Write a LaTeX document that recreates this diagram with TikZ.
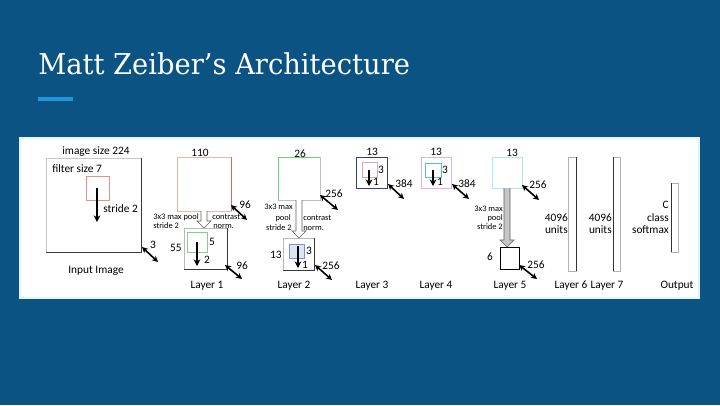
\documentclass[tikz,border=0pt]{standalone}
\usepackage{fontspec}
\usetikzlibrary{arrows.meta,calc,fit}
\newfontfamily\titlefont{DejaVu Serif}
\newfontfamily\dgfont{Carlito}
\definecolor{bg}{RGB}{11,83,130}
\definecolor{accent}{RGB}{30,150,220}
\definecolor{redsq}{RGB}{224,150,135}
\definecolor{redbox}{RGB}{236,180,165}
\definecolor{rededge}{RGB}{205,110,95}
\definecolor{grnsq}{RGB}{130,210,130}
\definecolor{grnbox}{RGB}{110,210,110}
\definecolor{bluesq}{RGB}{120,145,215}
\definecolor{bluefill}{RGB}{220,228,246}
\definecolor{navy}{RGB}{50,65,130}
\definecolor{pinksq}{RGB}{215,160,215}
\definecolor{lilac}{RGB}{225,180,230}
\definecolor{cyansq}{RGB}{70,200,205}
\definecolor{cyanbox}{RGB}{170,235,235}
\newcommand\fatarrow[3]{%
  \coordinate (fa-s) at (#1.south);
  \coordinate (fa-t) at (#1.south |- #2.north);
  \draw[gray!75!black, fill=#3, line width=0.5pt, line join=miter]
    ($(fa-s)+(-3,0)$) -- ($(fa-t)+(-3,-7)$) -- ($(fa-t)+(-7,-7)$) -- (fa-t)
    -- ($(fa-t)+(7,-7)$) -- ($(fa-t)+(3,-7)$) -- ($(fa-s)+(3,0)$);
}
\begin{document}
\begin{tikzpicture}[x=0.75pt,y=-0.75pt,
  lbl/.style={font=\dgfont\fontsize{8.5}{9}\selectfont, inner sep=0, text=black},
  sml/.style={font=\dgfont\fontsize{6.3}{7}\selectfont, inner sep=0, text=black},
  bx/.style={fit={#1}, inner sep=0, outer sep=0, draw, fill=white, line width=0.5pt},
  sq/.style={fit={#1}, inner sep=0, outer sep=0, draw, line width=0.6pt},
  shd/.style={line width=0.6pt, gray!45!black},
  dbl/.style={{Stealth[length=4.5pt,width=4.5pt]}-{Stealth[length=4.5pt,width=4.5pt]}, line width=1.2pt},
  dwn/.style={-{Stealth[length=5pt,width=5pt]}, line width=1.3pt},
]
\useasboundingbox (0,0) rectangle (720,405);
\fill[bg] (0,0) rectangle (720,405);
% title
\node[anchor=base west, inner sep=0, text=white, font=\titlefont\fontsize{20.5}{24}\selectfont] (title) at (38,74.5) {\scalebox{1}[1.05]{Matt Zeiber’s Architecture}};
\fill[accent] (38,97) rectangle (73,101);
% panel
\node[fit={(20,138) (699,298)}, inner sep=0, fill=white, draw=cyan!12, line width=0.8pt] (panel) {};

% ---------- input image ----------
\node[bx={(46,158) (141,252)}, draw=gray!45] (in) {};
\draw[shd] (in.north east) -- (in.south east) -- (in.south west);
\node[sq={(86,176) (109,200)}, draw=redsq] (inf) {};
\coordinate (ina1) at (97,188); \coordinate (ina2) at (97,222);
\draw[dwn] (ina1) -- (ina2);
\node[lbl] (t-is) at (96,152) {image size 224};
\node[lbl, anchor=west] (t-fs) at (52,169) {filter size 7};
\node[lbl, anchor=west] (t-s2) at (103,209) {stride 2};
\node[lbl] (t-in) at (96,271) {Input Image};
\coordinate (d0a) at (142,247); \coordinate (d0b) at (158,262);
\draw[dbl] (d0a) -- (d0b);
\node[lbl] (t-3) at (153,245) {3};

% ---------- layer 1 ----------
\node[bx={(177,157) (231,211)}, draw=redbox] (l1b) {};
\draw[line width=0.7pt, rededge] (l1b.north east) -- (l1b.south east);
\node[bx={(184,228) (227,269)}, draw=gray!55] (l1s) {};
\draw[shd] (l1s.north east) -- (l1s.south east) -- (l1s.south west);
\node[sq={(187,232) (207,252)}, draw=grnsq] (l1f) {};
\fatarrow{l1b}{l1s}{white}
\coordinate (l1a1) at (197,242); \coordinate (l1a2) at (197,266);
\draw[dwn] (l1a1) -- (l1a2);
\node[lbl] (t-110) at (200,153) {110};
\coordinate (d1a) at (231,205); \coordinate (d1b) at (247,220);
\draw[dbl] (d1a) -- (d1b);
\node[lbl] (t-96a) at (245,205) {96};
\node[sml, anchor=west] (t-mp1) at (153,217) {3x3 max pool};
\node[sml, anchor=west] (t-st1) at (153,226) {stride 2};
\node[sml, anchor=west] (t-cn1) at (212,217) {contrast};
\node[sml, anchor=west] (t-nm1) at (213,226) {norm.};
\node[lbl] (t-5) at (212,242) {5};
\node[lbl, anchor=east] (t-55) at (182,248) {55};
\node[lbl] (t-2) at (207,260) {2};
\coordinate (d2a) at (225,265); \coordinate (d2b) at (242,279);
\draw[dbl] (d2a) -- (d2b);
\node[lbl] (t-96b) at (242,266) {96};
\node[lbl] (t-l1) at (207,286) {Layer 1};

% ---------- layer 2 ----------
\node[bx={(278,157) (320,200)}, draw=grnbox] (l2b) {};
\draw[line width=0.6pt, gray!50] (l2b.north east) -- (l2b.south east) -- (l2b.south west);
\node[bx={(283,238) (314,270)}, draw=gray!55] (l2s) {};
\draw[shd] (l2s.north east) -- (l2s.south east) -- (l2s.south west);
\node[sq={(289,244) (304,258)}, draw=bluesq, fill=bluefill] (l2f) {};
\fatarrow{l2b}{l2s}{white}
\coordinate (l2a1) at (298,246); \coordinate (l2a2) at (298,268);
\draw[dwn] (l2a1) -- (l2a2);
\node[lbl] (t-26) at (300,154) {26};
\coordinate (d3a) at (320,195); \coordinate (d3b) at (338,210);
\draw[dbl] (d3a) -- (d3b);
\node[lbl] (t-256a) at (334,194) {256};
\node[sml, anchor=east] (t-mp2) at (293,207) {3x3 max};
\node[sml, anchor=east] (t-po2) at (291,218) {pool};
\node[sml, anchor=east] (t-st2) at (292,228) {stride 2};
\node[sml, anchor=west] (t-cn2) at (303,218) {contrast};
\node[sml, anchor=west] (t-nm2) at (303,228) {norm.};
\node[lbl, anchor=east] (t-13a) at (282,255) {13};
\node[lbl] (t-3b) at (309,251) {3};
\node[lbl] (t-1a) at (305,265) {1};
\coordinate (d4a) at (315,265); \coordinate (d4b) at (332,280);
\draw[dbl] (d4a) -- (d4b);
\node[lbl] (t-256b) at (331,266) {256};
\node[lbl] (t-l2) at (294,286) {Layer 2};

% ---------- layer 3 ----------
\node[bx={(356,157) (387,188)}, draw=navy, line width=0.6pt] (l3) {};
\node[sq={(362,162) (377,177)}, draw=pinksq] (l3f) {};
\coordinate (l3a1) at (369,170); \coordinate (l3a2) at (369,186);
\draw[dwn] (l3a1) -- (l3a2);
\node[lbl] (t-13b) at (372,152) {13};
\node[lbl] (t-3c) at (381,170) {3};
\node[lbl] (t-1b) at (376,182) {1};
\coordinate (d5a) at (388,184); \coordinate (d5b) at (404,199);
\draw[dbl] (d5a) -- (d5b);
\node[lbl] (t-384a) at (404,184) {384};
\node[lbl] (t-l3) at (372,286) {Layer 3};

% ---------- layer 4 ----------
\node[bx={(421,157) (451,188)}, draw=lilac, line width=0.6pt] (l4) {};
\node[sq={(425,163) (441,177)}, draw=cyansq] (l4f) {};
\coordinate (l4a1) at (433,170); \coordinate (l4a2) at (433,186);
\draw[dwn] (l4a1) -- (l4a2);
\node[lbl] (t-13c) at (436,152) {13};
\node[lbl] (t-3d) at (445,170) {3};
\node[lbl] (t-1c) at (440,182) {1};
\coordinate (d6a) at (452,184); \coordinate (d6b) at (469,199);
\draw[dbl] (d6a) -- (d6b);
\node[lbl] (t-384b) at (467,184) {384};
\node[lbl] (t-l4) at (436,286) {Layer 4};

% ---------- layer 5 ----------
\node[bx={(492,157) (522,188)}, draw=cyanbox, line width=0.6pt] (l5b) {};
\node[bx={(500,247) (519,269)}, draw=black, line width=0.6pt] (l5s) {};
\fatarrow{l5b}{l5s}{gray!45}
\node[lbl] (t-13d) at (512,153) {13};
\coordinate (d7a) at (522,185); \coordinate (d7b) at (539,200);
\draw[dbl] (d7a) -- (d7b);
\node[lbl] (t-256c) at (538,185) {256};
\node[sml, anchor=east] (t-mp5) at (503,209) {3x3 max};
\node[sml, anchor=east] (t-po5) at (503,218) {pool};
\node[sml, anchor=east] (t-st5) at (503,227) {stride 2};
\node[lbl] (t-6) at (490,257) {6};
\coordinate (d8a) at (519,265); \coordinate (d8b) at (537,279);
\draw[dbl] (d8a) -- (d8b);
\node[lbl] (t-256d) at (536,265) {256};
\node[lbl] (t-l5) at (510,286) {Layer 5};

% ---------- layers 6, 7, output ----------
\node[bx={(568,157) (576,271)}, draw=gray!60] (l6) {};
\draw[line width=0.6pt, gray!40!black] (l6.north east) -- (l6.south east);
\node[bx={(613,157) (620,271)}, draw=gray!60] (l7) {};
\draw[line width=0.6pt, gray!40!black] (l7.north west) -- (l7.south west);
\node[bx={(671,183) (678,252)}, draw=gray!60] (out) {};
\draw[line width=0.6pt, gray!40!black] (out.north west) -- (out.south west);
\node[lbl, anchor=east] (t-4096a) at (568,218) {4096};
\node[lbl, anchor=east] (t-ua) at (568,230) {units};
\node[lbl] (t-l6) at (571,286) {Layer 6};
\node[lbl, anchor=east] (t-4096b) at (612,218) {4096};
\node[lbl, anchor=east] (t-ub) at (612,230) {units};
\node[lbl] (t-l7) at (607,286) {Layer 7};
\node[lbl, anchor=east] (t-c) at (669,205) {C};
\node[lbl, anchor=east] (t-cl) at (669,218) {class};
\node[lbl, anchor=east] (t-sm) at (669,230) {softmax};
\node[lbl] (t-out) at (677,286) {Output};
\end{tikzpicture}
\end{document}
